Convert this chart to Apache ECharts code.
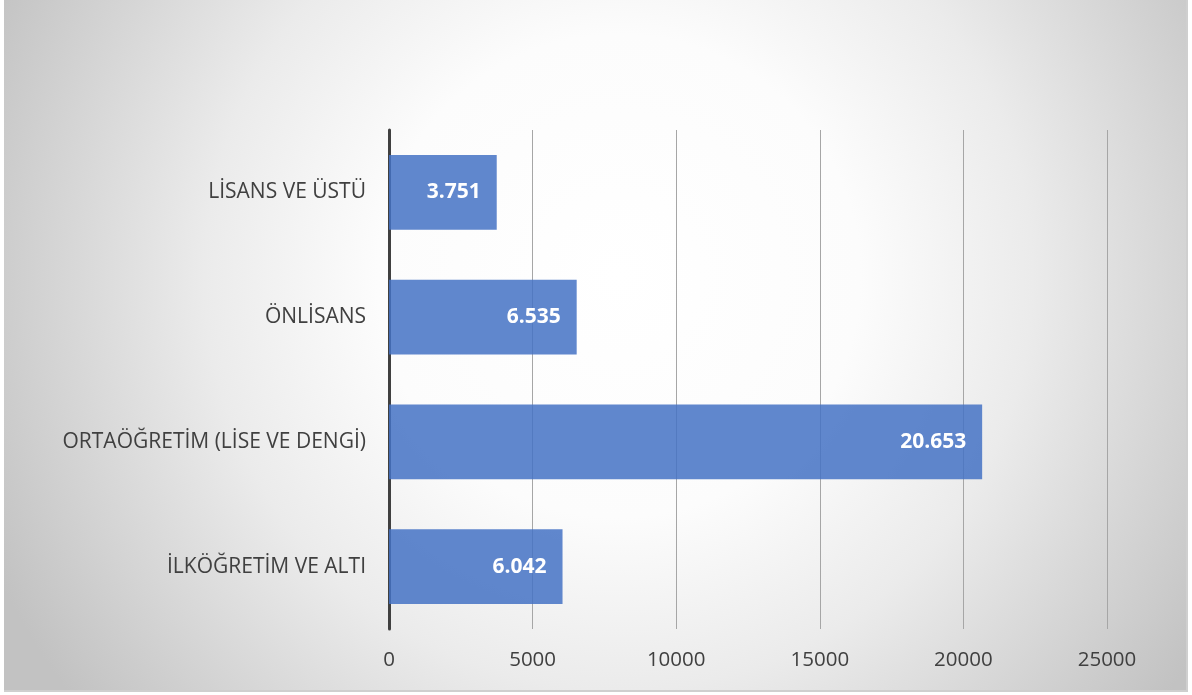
<!DOCTYPE html>
<html>
<head>
<meta charset="utf-8">
<script src="https://cdn.jsdelivr.net/npm/echarts@6/dist/echarts.min.js"></script>
<style>
html,body{margin:0;padding:0;background:#fff;}
#c{position:absolute;left:4px;top:0;width:1182px;height:690px;border-right:2px solid #cfcfcf;border-bottom:2px solid #cfcfcf;}
</style>
</head>
<body>
<div id="c"></div>
<script>
const categories = ['İLKÖĞRETİM VE ALTI', 'ORTAÖĞRETİM (LİSE VE DENGİ)', 'ÖNLİSANS', 'LİSANS VE ÜSTÜ'];
const values = [6042, 20653, 6535, 3751];
const xMin = 0, xMax = 25000, xStep = 5000;

function fmtTR(v){
  return String(v).replace(/\B(?=(\d{3})+(?!\d))/g, '.');
}

const chart = echarts.init(document.getElementById('c'));
chart.setOption({
  backgroundColor: {
    type: 'radial', x: 0.52, y: 0.4, r: 1.0,
    colorStops: [
      {offset: 0, color: '#ffffff'},
      {offset: 0.35, color: '#fcfcfc'},
      {offset: 0.6, color: '#ebebeb'},
      {offset: 1, color: '#c2c2c2'}
    ]
  },
  animation: false,
  grid: {left: 385, right: 79, top: 130, bottom: 61, containLabel: false},
  xAxis: {
    type: 'value', min: xMin, max: xMax, interval: xStep,
    axisLine: {show: false}, axisTick: {show: false},
    splitLine: {show: true, lineStyle: {color: '#a6a6a6', width: 1}},
    axisLabel: {color: '#404040', fontSize: 20.5, fontFamily: 'Open Sans', margin: 21,
      formatter: v => String(v)}
  },
  yAxis: {
    type: 'category', data: categories,
    axisLine: {show: true, lineStyle: {color: '#404040', width: 3}},
    axisTick: {show: false},
    axisLabel: {color: '#404040', fontSize: 21, fontFamily: 'Open Sans', margin: 23,
      padding: [4, 0, 0, 0]}
  },
  series: [{
    type: 'bar', data: values, barCategoryGap: '40%',
    itemStyle: {color: 'rgba(68,114,196,0.85)'},
    label: {
      show: true, position: 'insideRight', distance: 16,
      color: '#ffffff', fontWeight: 'bold', fontSize: 21, fontFamily: 'Open Sans',
      formatter: p => fmtTR(p.value)
    }
  }]
});
</script>
</body>
</html>
